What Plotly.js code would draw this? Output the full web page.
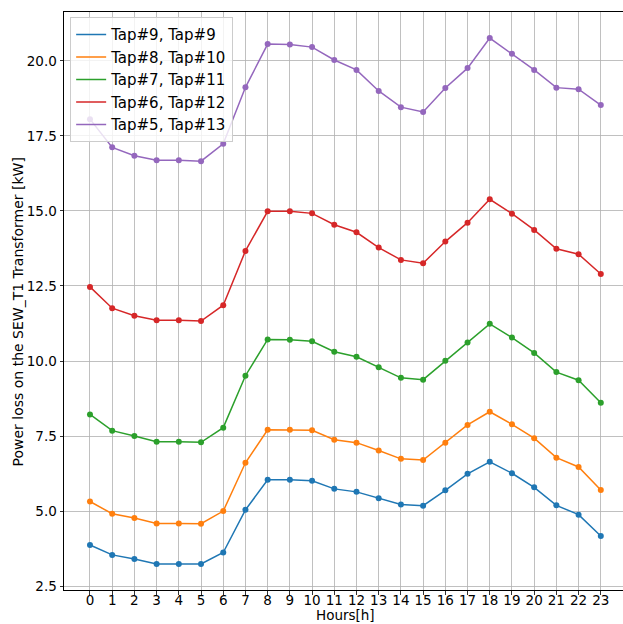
<!DOCTYPE html>
<html>
<head>
<meta charset="utf-8">
<script src="https://cdn.plot.ly/plotly-3.0.1.min.js"></script>
<style>html,body{margin:0;padding:0;background:#fff;}#chart{width:623px;height:624px;}</style>
</head>
<body>
<div id="chart"></div>
<script>
const hours = [0,1,2,3,4,5,6,7,8,9,10,11,12,13,14,15,16,17,18,19,20,21,22,23];
const seriesNames = ["Tap#9, Tap#9","Tap#8, Tap#10","Tap#7, Tap#11","Tap#6, Tap#12","Tap#5, Tap#13"];
const tap9 = [3.87,3.54,3.40,3.24,3.24,3.24,3.62,5.04,6.04,6.04,6.01,5.74,5.64,5.43,5.22,5.18,5.69,6.24,6.64,6.26,5.79,5.19,4.88,4.17];
const tap8_10 = [5.32,4.91,4.77,4.59,4.59,4.58,5.00,6.61,7.71,7.71,7.69,7.38,7.28,7.02,6.74,6.70,7.28,7.87,8.31,7.89,7.43,6.78,6.47,5.70];
const tap7_11 = [8.22,7.68,7.50,7.31,7.31,7.29,7.78,9.51,10.72,10.71,10.66,10.31,10.14,9.79,9.44,9.38,10.01,10.62,11.24,10.78,10.27,9.63,9.36,8.61];
const tap6_12 = [12.47,11.76,11.51,11.36,11.36,11.33,11.86,13.67,14.99,14.99,14.92,14.54,14.29,13.78,13.37,13.26,13.98,14.61,15.39,14.91,14.37,13.74,13.56,12.90];
const tap5_13 = [18.06,17.12,16.84,16.69,16.69,16.66,17.24,19.12,20.56,20.55,20.46,20.03,19.70,19.00,18.46,18.30,19.10,19.76,20.76,20.24,19.70,19.11,19.06,18.53];
const yTickVals = [2.5,5,7.5,10,12.5,15,17.5,20];
const yTickText = ["2.5","5.0","7.5","10.0","12.5","15.0","17.5","20.0"];
const xTitle = "Hours[h]";
const yTitle = "Power loss on the SEW_T1 Transformer [kW]";
const colors = ["#1f77b4","#ff7f0e","#2ca02c","#d62728","#9467bd"];
const allSeries = [tap9, tap8_10, tap7_11, tap6_12, tap5_13];

const traces = [];
allSeries.forEach((ys, i) => {
  traces.push({
    x: hours, y: ys, type: "scatter", mode: "lines+markers",
    name: seriesNames[i], showlegend: false, legendgroup: "g"+i,
    line: {color: colors[i], width: 1.5},
    marker: {color: colors[i], size: 6}
  });
});
allSeries.forEach((ys, i) => {
  traces.push({
    x: [null], y: [null], type: "scatter", mode: "lines",
    name: seriesNames[i], legendgroup: "g"+i,
    line: {color: colors[i], width: 1.5}
  });
});

const tickFont = {family: "DejaVu Sans", size: 13.5, color: "#000"};
const titleFont = {family: "DejaVu Sans", size: 14, color: "#000"};
const xTitleFont = {family: "DejaVu Sans", size: 13.5, color: "#000"};
const layout = {
  width: 623, height: 624,
  margin: {l: 64, r: 0, t: 12, b: 34, pad: 0},
  paper_bgcolor: "#fff", plot_bgcolor: "#fff",
  font: tickFont,
  showlegend: true,
  legend: {
    x: 0.011, y: 0.991, xanchor: "left", yanchor: "top",
    bgcolor: "rgba(255,255,255,0.8)", bordercolor: "#cccccc", borderwidth: 1,
    font: {family: "DejaVu Sans", size: 15, color: "#000"},
    tracegroupgap: 0, itemwidth: 30
  },
  xaxis: {
    range: [-1.17, 24.0],
    tickmode: "array", tickvals: hours, ticktext: hours.map(String),
    showgrid: true, gridcolor: "#b0b0b0", gridwidth: 0.8,
    showline: true, linecolor: "#000", linewidth: 1, mirror: true,
    ticks: "outside", ticklen: 3.5, tickcolor: "#000", tickwidth: 0.8,
    ticklabelstandoff: -6,
    zeroline: false,
    tickfont: tickFont
  },
  yaxis: {
    range: [2.37, 21.63],
    tickmode: "array", tickvals: yTickVals, ticktext: yTickText,
    showgrid: true, gridcolor: "#b0b0b0", gridwidth: 0.8,
    showline: true, linecolor: "#000", linewidth: 1, mirror: true,
    ticks: "outside", ticklen: 3.5, tickcolor: "#000", tickwidth: 0.8,
    zeroline: false,
    tickfont: tickFont
  },
  annotations: [
    {text: xTitle, xref: "paper", yref: "paper", x: 0.503, y: -0.0588,
     xanchor: "center", yanchor: "bottom", showarrow: false, borderpad: 0, font: xTitleFont},
    {text: yTitle, xref: "paper", yref: "paper", x: -0.0832, y: 0.481,
     xanchor: "center", yanchor: "middle", showarrow: false, textangle: -90, font: titleFont}
  ]
};
Plotly.newPlot("chart", traces, layout, {displayModeBar: false, staticPlot: true});
</script>
</body>
</html>
